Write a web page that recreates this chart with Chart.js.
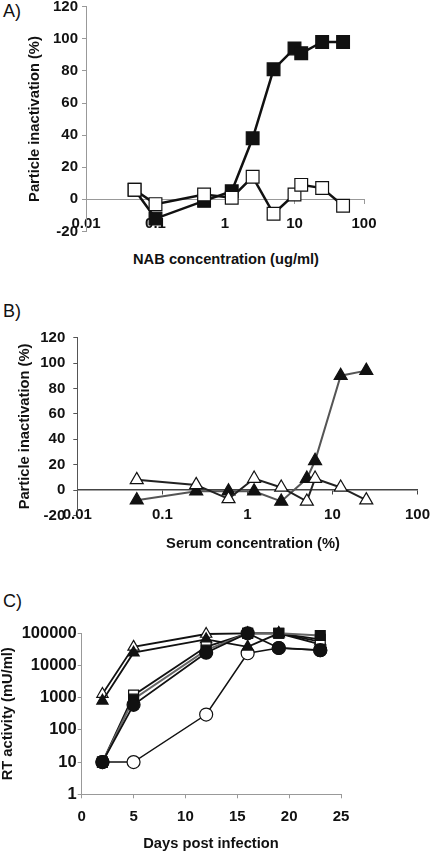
<!DOCTYPE html>
<html>
<head>
<meta charset="utf-8">
<script src="https://cdn.jsdelivr.net/npm/chart.js@4.4.1/dist/chart.umd.min.js"></script>
<style>
  html, body { margin: 0; padding: 0; background: #fff; }
  body { width: 442px; height: 851px; position: relative; overflow: hidden; font-family: "Liberation Sans", Arial, sans-serif; color: #111; }
  canvas { position: absolute; left: 0; }
  .lbl { position: absolute; left: 3px; font-size: 18px; line-height: 18px; }
  .xt { position: absolute; font-weight: bold; font-size: 14.7px; line-height: 17px; transform: translate(-50%, -50%); white-space: nowrap; }
</style>
</head>
<body>
<div class="lbl" style="top:2px">A)</div>
<div class="lbl" style="top:302px">B)</div>
<div class="lbl" style="top:592px">C)</div>

<canvas id="chartA" width="442" height="270" style="top:-20px"></canvas>
<canvas id="chartB" width="442" height="240" style="top:300px"></canvas>
<canvas id="chartC" width="442" height="251" style="top:600px"></canvas>

<div class="xt" style="left:226px; top:259px">NAB concentration (ug/ml)</div>
<div class="xt" style="left:253px; top:543px">Serum concentration (%)</div>
<div class="xt" style="left:211px; top:843px">Days post infection</div>

<script>
// panel A - NAB
const nabConc = [0.05, 0.1, 0.5, 1.25, 2.5, 5, 10, 12.5, 25, 50];
const nabOpen = [6, -3, 3, 1, 14, -9, 3, 9, 7, -4];
const nabFilled = [6, -12, -1, 5, 38, 81, 94, 91, 98, 98];

// panel B - serum
const serumConc = [0.05, 0.25, 0.6, 1.2, 2.5, 5, 6.25, 12.5, 25];
const serumOpen = [8, 4, -7, 9, 2, -9, 9, 2, -8];
const serumFilled = [-8, -1, -1, -1, -9, 9, 23, 90, 94];

// panel C - RT activity
const days = [2, 5, 12, 16, 19, 23];
const rtOpenCircle = [10, 10, 300, 24000, 35000, 30000];
const rtFilledCircle = [10, 600, 25000, 100000, 35000, 30000];
const rtOpenSquare = [10, 1200, 38000, 100000, 100000, 65000];
const rtFilledSquare = [10, 900, 30000, 100000, 100000, 85000];
const rtOpenTriangle = [1300, 38000, 95000, 100000, 100000, 55000];
const rtFilledTriangle = [800, 25000, 65000, 38000, 100000, 45000];

const logTicksX = [0.01, 0.1, 1, 10, 100];
const logTicksRT = [1, 10, 100, 1000, 10000, 100000];

const FONT = '"Liberation Sans", Arial, sans-serif';
const tickFont = { family: FONT, size: 15, weight: 'bold' };
const tickFontC = { family: FONT, size: 16.5, weight: 'bold' };
const titleFont = { family: FONT, size: 14.7, weight: 'bold' };

function pts(xs, ys) {
  return xs.map((x, i) => ({ x: x, y: ys[i] }));
}

function series(data, style, fill, line, width, radius) {
  return {
    data: data,
    borderColor: line,
    borderWidth: width,
    pointStyle: style,
    pointRadius: radius,
    pointBackgroundColor: fill,
    pointBorderColor: '#111',
    pointBorderWidth: 1.2,
    tension: 0,
    fill: false,
    clip: false
  };
}

function baseOptions(padding, scales) {
  return {
    responsive: false,
    animation: false,
    events: [],
    layout: { padding: padding },
    plugins: { legend: { display: false }, tooltip: { enabled: false } },
    scales: scales
  };
}

new Chart(document.getElementById('chartA'), {
  type: 'line',
  data: {
    datasets: [
      series(pts(nabConc, nabOpen), 'rect', '#fff', '#111', 2.5, 9),
      series(pts(nabConc, nabFilled), 'rect', '#111', '#111', 2.5, 9)
    ]
  },
  options: baseOptions({ left: 0, top: 26.7, right: 78, bottom: 18.6 }, {
    x: {
      type: 'logarithmic', position: { y: 0 }, min: 0.01, max: 100,
      afterBuildTicks: s => { s.ticks = logTicksX.map(v => ({ value: v })); },
      ticks: { font: tickFont, color: '#111', padding: 11.7, maxRotation: 0, autoSkip: false, callback: v => String(v) },
      grid: { drawOnChartArea: false, tickLength: 4, color: '#999' },
      border: { color: '#999' }
    },
    y: {
      type: 'linear', min: -20, max: 120,
      ticks: { stepSize: 20, font: tickFont, color: '#111', padding: 4 },
      grid: { drawOnChartArea: false, tickLength: 4, color: '#999' },
      border: { color: '#999' },
      title: { display: true, text: 'Particle inactivation (%)', font: titleFont, color: '#111', padding: { top: 25.8 } },
      afterFit: s => { s.width = 86; }
    }
  })
});

new Chart(document.getElementById('chartB'), {
  type: 'line',
  data: {
    datasets: [
      series(pts(serumConc, serumOpen), 'triangle', '#fff', '#222', 2, 7.5),
      series(pts(serumConc, serumFilled), 'triangle', '#111', '#555', 2, 7.5)
    ]
  },
  options: baseOptions({ left: 0, top: 37.6, right: 14, bottom: 24.6 }, {
    x: {
      type: 'logarithmic', position: { y: 0 }, min: 0.01, max: 100,
      afterBuildTicks: s => { s.ticks = logTicksX.map(v => ({ value: v })); },
      ticks: { font: tickFont, color: '#111', padding: 12, maxRotation: 0, autoSkip: false, callback: v => String(v) },
      grid: { drawOnChartArea: false, tickLength: 4, color: '#444' },
      border: { color: '#444', width: 1.5 }
    },
    y: {
      type: 'linear', min: -20, max: 120,
      ticks: { stepSize: 20, font: tickFont, color: '#111', padding: 8 },
      grid: { drawOnChartArea: false, tickLength: 4, color: '#555' },
      border: { color: '#555' },
      title: { display: true, text: 'Particle inactivation (%)', font: titleFont, color: '#111', padding: { top: 16.2 } },
      afterFit: s => { s.width = 77.3; }
    }
  })
});

// first dataset is drawn on top: filled markers above open ones
new Chart(document.getElementById('chartC'), {
  type: 'line',
  data: {
    datasets: [
      series(pts(days, rtFilledCircle), 'circle', '#111', '#111', 1.8, 6.5),
      series(pts(days, rtFilledSquare), 'rect', '#111', '#666', 2, 7),
      series(pts(days, rtOpenSquare), 'rect', '#fff', '#111', 1.8, 7),
      series(pts(days, rtFilledTriangle), 'triangle', '#111', '#111', 1.8, 6.5),
      series(pts(days, rtOpenTriangle), 'triangle', '#fff', '#111', 1.8, 6.5),
      series(pts(days, rtOpenCircle), 'circle', '#fff', '#111', 1.5, 6.5)
    ]
  },
  options: baseOptions({ left: 0, top: 33.3, right: 101, bottom: 26.7 }, {
    x: {
      type: 'linear', min: 0, max: 25,
      ticks: { stepSize: 5, font: tickFont, color: '#111', padding: 9.4, maxRotation: 0 },
      grid: { drawOnChartArea: false, tickLength: 4, color: '#999' },
      border: { color: '#999' },
      afterFit: s => { s.height = 30; }
    },
    y: {
      type: 'logarithmic', min: 1, max: 100000,
      afterBuildTicks: s => { s.ticks = logTicksRT.map(v => ({ value: v })); },
      ticks: { font: tickFontC, color: '#111', padding: 1, autoSkip: false, callback: v => String(v) },
      grid: { drawOnChartArea: false, tickLength: 4, color: '#999' },
      border: { color: '#999' },
      title: { display: true, text: 'RT activity (mU/ml)', font: titleFont, color: '#111', padding: { top: -1.3 } },
      afterFit: s => { s.width = 81.7; }
    }
  })
});
</script>
</body>
</html>
